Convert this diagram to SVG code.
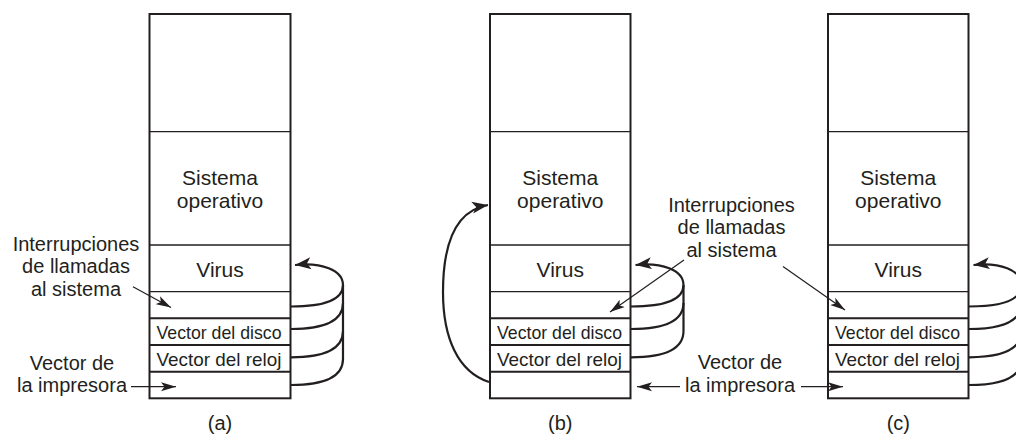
<svg xmlns="http://www.w3.org/2000/svg" width="1016" height="437" viewBox="0 0 1016 437">
<style>
.box{fill:#fff;stroke:#231f20;stroke-width:2}
.thin{stroke:#231f20;stroke-width:1.3}
.thick{stroke:#231f20;stroke-width:2}
.t{font-family:"Liberation Sans",Arial,sans-serif;font-size:20px;fill:#231f20;text-anchor:middle}
.b{font-family:"Liberation Sans",Arial,sans-serif;font-size:21px;fill:#231f20;text-anchor:middle}
.s{font-family:"Liberation Sans",Arial,sans-serif;font-size:19px;fill:#231f20;text-anchor:middle}
.curve{fill:none;stroke:#231f20;stroke-width:2.2;marker-end:url(#big)}
.link{fill:none;stroke:#231f20;stroke-width:2.2}
.ptr{fill:none;stroke:#231f20;stroke-width:1.2;marker-end:url(#small)}
</style>
<defs>
<marker id="big" markerUnits="userSpaceOnUse" markerWidth="20" markerHeight="14" refX="16" refY="6" orient="auto" viewBox="0 0 20 12">
<path d="M0,0 L16,6 L0,12 L4,6 Z" fill="#231f20"/>
</marker>
<marker id="small" markerUnits="userSpaceOnUse" markerWidth="18" markerHeight="10" refX="15" refY="4.5" orient="auto" viewBox="0 0 18 9">
<path d="M0,0 L15,4.5 L0,9 L3.5,4.5 Z" fill="#231f20"/>
</marker>
</defs>

<g id="column-a">
<rect class="box" x="149.5" y="14" width="141" height="384.3"/>
<line class="thin" x1="149.5" y1="131.7" x2="290.5" y2="131.7"/>
<line class="thin" x1="149.5" y1="245" x2="290.5" y2="245"/>
<line class="thin" x1="149.5" y1="291.7" x2="290.5" y2="291.7"/>
<line class="thick" x1="149.5" y1="318.3" x2="290.5" y2="318.3"/>
<line class="thick" x1="149.5" y1="345" x2="290.5" y2="345"/>
<line class="thick" x1="149.5" y1="371.7" x2="290.5" y2="371.7"/>
<text class="b" x="220" y="185">Sistema</text>
<text class="b" x="220" y="208">operativo</text>
<text class="b" x="220" y="277">Virus</text>
<text class="s" x="219" y="338.5" textLength="125" lengthAdjust="spacingAndGlyphs">Vector del disco</text>
<text class="s" x="219" y="366" textLength="125" lengthAdjust="spacingAndGlyphs">Vector del reloj</text>
</g>

<g id="column-b">
<rect class="box" x="490" y="14" width="140.5" height="384.3"/>
<line class="thin" x1="490" y1="131.7" x2="630.5" y2="131.7"/>
<line class="thin" x1="490" y1="245" x2="630.5" y2="245"/>
<line class="thin" x1="490" y1="291.7" x2="630.5" y2="291.7"/>
<line class="thick" x1="490" y1="318.3" x2="630.5" y2="318.3"/>
<line class="thick" x1="490" y1="345" x2="630.5" y2="345"/>
<line class="thick" x1="490" y1="371.7" x2="630.5" y2="371.7"/>
<text class="b" x="560.3" y="185">Sistema</text>
<text class="b" x="560.3" y="208">operativo</text>
<text class="b" x="560.3" y="277">Virus</text>
<text class="s" x="559.5" y="338.5" textLength="125" lengthAdjust="spacingAndGlyphs">Vector del disco</text>
<text class="s" x="559.5" y="366" textLength="125" lengthAdjust="spacingAndGlyphs">Vector del reloj</text>
</g>

<g id="column-c">
<rect class="box" x="828" y="14" width="140.5" height="384.3"/>
<line class="thin" x1="828" y1="131.7" x2="968.5" y2="131.7"/>
<line class="thin" x1="828" y1="245" x2="968.5" y2="245"/>
<line class="thin" x1="828" y1="291.7" x2="968.5" y2="291.7"/>
<line class="thick" x1="828" y1="318.3" x2="968.5" y2="318.3"/>
<line class="thick" x1="828" y1="345" x2="968.5" y2="345"/>
<line class="thick" x1="828" y1="371.7" x2="968.5" y2="371.7"/>
<text class="b" x="898.3" y="185">Sistema</text>
<text class="b" x="898.3" y="208">operativo</text>
<text class="b" x="898.3" y="277">Virus</text>
<text class="s" x="897.5" y="338.5" textLength="125" lengthAdjust="spacingAndGlyphs">Vector del disco</text>
<text class="s" x="897.5" y="366" textLength="125" lengthAdjust="spacingAndGlyphs">Vector del reloj</text>
</g>

<g id="labels">
<text class="t" x="76" y="250.7">Interrupciones</text>
<text class="t" x="76" y="273.3">de llamadas</text>
<text class="t" x="76" y="295.7">al sistema</text>
<text class="t" x="72" y="370">Vector de</text>
<text class="t" x="72" y="392">la impresora</text>
<text class="t" x="731.5" y="211.7">Interrupciones</text>
<text class="t" x="731.5" y="234.3">de llamadas</text>
<text class="t" x="731.5" y="256.7">al sistema</text>
<text class="t" x="740" y="369">Vector de</text>
<text class="t" x="740" y="392">la impresora</text>
<text class="t" x="220" y="430">(a)</text>
<text class="t" x="560.3" y="430">(b)</text>
<text class="t" x="898.3" y="430">(c)</text>
</g>

<g id="connectors">
<path class="ptr" d="M133,286.7 L171,307.5"/>
<path class="ptr" d="M131,386.7 L176,386.7"/>
<path class="ptr" d="M684,260 L610,312"/>
<path class="ptr" d="M783,266.5 L845,310"/>
<path class="ptr" d="M680,386.7 L637,386.7"/>
<path class="ptr" d="M801,386.7 L843,386.7"/>
<path class="curve" d="M291,306.5 C329,306.5 343,298 343,285 C343,270 321,262 295,265"/>
<path class="link" d="M291,329 C326,329 343,320 343,303 L343,285"/>
<path class="link" d="M291,357.3 C326,357.3 343,348 343,331 L343,303"/>
<path class="link" d="M291,385 C326,385 343,376 343,359 L343,331"/>
<path class="curve" d="M631,306.5 C669,306.5 683.5,298 683.5,285 C683.5,270 661.5,262 635.5,265"/>
<path class="link" d="M631,329 C666,329 683.5,320 683.5,303 L683.5,285"/>
<path class="link" d="M631,357.3 C666,357.3 683.5,348 683.5,331 L683.5,303"/>
<path class="curve" d="M489,382 C458,372 443,338 443,292 C443,240 458,210 488,205"/>
<path class="curve" d="M969,306.5 C1007,306.5 1021.5,298 1021.5,285 C1021.5,270 999.5,262 973.5,265"/>
<path class="link" d="M969,329 C1004,329 1021.5,320 1021.5,303 L1021.5,285"/>
<path class="link" d="M969,357.3 C1004,357.3 1021.5,348 1021.5,331 L1021.5,303"/>
<path class="link" d="M969,385 C1004,385 1021.5,376 1021.5,359 L1021.5,331"/>
</g>
</svg>
